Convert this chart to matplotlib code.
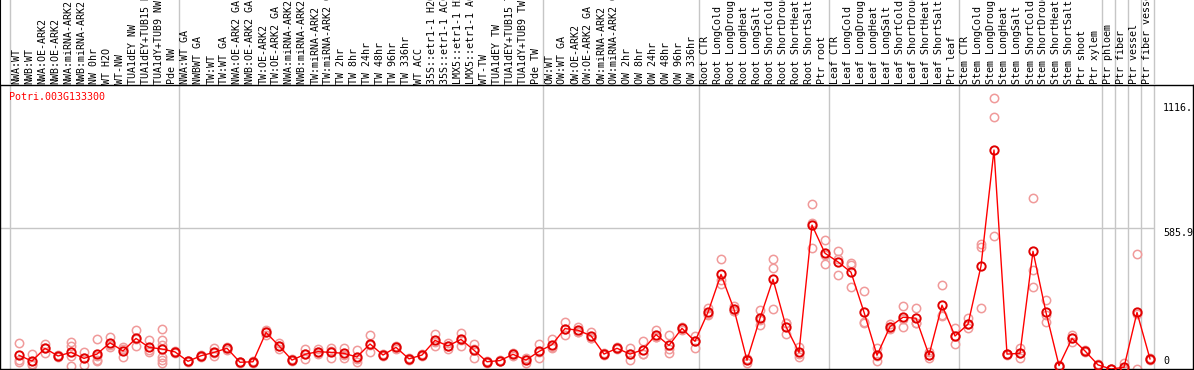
import matplotlib
matplotlib.use("Agg")
import matplotlib.pyplot as plt
from matplotlib.transforms import blended_transform_factory, offset_copy

# ---------------- data ----------------
gene = "Potri.003G133300"

group_sizes = [13, 28, 12, 10, 10, 11, 1, 1, 1, 1]

labels = [
    # group 1
    "NWA:WT", "NWB:WT", "NWA:OE-ARK2", "NWB:OE-ARK2", "NWA:miRNA-ARK2", "NWB:miRNA-ARK2",
    "NW 0hr", "WT H2O", "WT-NW", "TUA1dEY NW", "TUA1dEY+TUB15 NW", "TUA1dY+TUB9 NW", "Pde NW",
    # group 2
    "NWA:WT GA", "NWBWT GA", "TW:WT", "TW:WT GA", "NWA:OE-ARK2 GA", "NWB:OE-ARK2 GA",
    "TW:OE-ARK2", "TW:OE-ARK2 GA", "NWA:miRNA-ARK2 GA", "NWB:miRNA-ARK2 GA", "TW:miRNA-ARK2",
    "TW:miRNA-ARK2 GA", "TW 2hr", "TW 8hr", "TW 24hr", "TW 48hr", "TW 96hr", "TW 336hr",
    "WT ACC", "35S::etr1-1 H2O", "35S::etr1-1 ACC", "LMX5::etr1-1 H2O", "LMX5::etr1-1 ACC",
    "WT-TW", "TUA1dEY TW", "TUA1dEY+TUB15 TW", "TUA1dY+TUB9 TW", "Pde TW",
    # group 3
    "OW:WT", "OW:WT GA", "OW:OE-ARK2", "OW:OE-ARK2 GA", "OW:miRNA-ARK2", "OW:miRNA-ARK2 GA",
    "OW 2hr", "OW 8hr", "OW 24hr", "OW 48hr", "OW 96hr", "OW 336hr",
    # group 4
    "Root CTR", "Root LongCold", "Root LongDrought", "Root LongHeat", "Root LongSalt",
    "Root ShortCold", "Root ShortDrought", "Root ShortHeat", "Root ShortSalt", "Ptr root",
    # group 5
    "Leaf CTR", "Leaf LongCold", "Leaf LongDrought", "Leaf LongHeat", "Leaf LongSalt",
    "Leaf ShortCold", "Leaf ShortDrought", "Leaf ShortHeat", "Leaf ShortSalt", "Ptr leaf",
    # group 6
    "Stem CTR", "Stem LongCold", "Stem LongDrought", "Stem LongHeat", "Stem LongSalt",
    "Stem ShortCold", "Stem ShortDrought", "Stem ShortHeat", "Stem ShortSalt", "Ptr shoot",
    "Ptr xylem",
    # groups 7-10
    "Ptr phloem", "Ptr fiber", "Ptr vessel", "Ptr fiber vessel",
]

means = [
    57, 33, 86, 54, 69, 44, 62, 109, 75, 127, 90, 83, 71,
    32, 55, 69, 86, 28, 30, 152, 96, 37, 61, 72, 69, 65, 50, 104, 58, 90, 42, 58, 119,
    96, 123, 78, 30, 35, 61, 37, 73,
    101, 168, 161, 138, 62, 86, 62, 80, 143, 98, 169, 115,
    236, 393, 248, 36, 211, 373, 176, 69, 598, 481,
    445, 402, 236, 57, 176, 215, 211, 58, 265, 137,
    186, 428, 910, 62, 65, 489, 235, 14, 127, 75, 17,
    0, 7, 235, 42,
]

replicates = [
    [107, 36, 28], [61, 21, 17], [103, 87, 68], [60, 54, 48], [113, 96, 55, 12],
    [69, 45, 18], [125, 53, 37, 33], [134, 100, 93], [93, 83, 49], [162, 123, 96],
    [120, 81, 69], [165, 120, 101, 51, 37, 24], [75, 71, 67],
    [35, 32, 29], [60, 55, 50], [86, 66, 55], [92, 86, 80], [30, 28, 26], [33, 30, 27],
    [162, 152, 142], [109, 96, 83], [40, 37, 34], [82, 61, 40], [82, 72, 62], [89, 74, 44],
    [89, 60, 46], [79, 41, 30], [141, 99, 72], [63, 58, 53], [95, 90, 85], [46, 42, 38],
    [62, 58, 54], [147, 114, 96], [107, 96, 85], [151, 121, 97], [105, 85, 44],
    [34, 30, 26], [38, 35, 32], [68, 61, 54], [44, 41, 26], [103, 70, 46],
    [126, 90, 87], [195, 166, 143], [176, 155, 152], [155, 130, 129], [66, 62, 58],
    [90, 86, 82], [86, 63, 37], [115, 64, 61], [162, 134, 133], [141, 85, 68],
    [176, 169, 162], [138, 118, 89],
    [255, 229, 224], [456, 371, 352], [262, 241, 241], [41, 41, 26], [245, 205, 183],
    [456, 418, 248], [192, 191, 145], [93, 63, 51], [686, 607, 501], [535, 472, 436],
    [489, 457, 389], [442, 432, 339], [323, 194, 191], [86, 52, 33], [185, 176, 167],
    [262, 207, 176], [252, 190, 191], [72, 58, 44], [349, 224, 222], [169, 139, 103],
    [211, 186, 169], [519, 506, 252], [1125, 1046, 553], [62, 64, 60], [89, 65, 44],
    [709, 411, 339], [287, 224, 194], [14, 12, 16], [141, 127, 113], [80, 75, 70],
    [17, 15, 19],
    [0, 0, 0], [24, 0, 0], [478, 228, 0], [42, 45, 39],
]

grid_value = 585.9
ytick_values = [1116, 585.9, 0]
ytick_labels = ["1116.", "585.9", "0"]

# ---------------- layout ----------------
W, H = 1194, 370
fig = plt.figure(figsize=(W / 100, H / 100), dpi=100)
fig.patch.set_facecolor("white")


def fx(px):
    return px / W


def fy(py):
    return 1 - py / H


top_line, bottom_line, right_line = 85, 369, 1193
ax = fig.add_axes([0, fy(bottom_line), fx(right_line), (bottom_line - top_line) / H])
lab = fig.add_axes([0, fy(top_line), fx(right_line), top_line / H])

col_w = 13.0
x0 = 10.0
xlim = (-x0 / col_w, (right_line - x0) / col_w)
ymax = grid_value * (bottom_line - top_line) / (bottom_line - 228)
for a in (ax, lab):
    a.set_xlim(*xlim)
    a.set_xticks([])
    a.set_yticks([])
    a.patch.set_alpha(0)
ax.set_ylim(0, ymax)
lab.set_ylim(0, 1)

for s in ax.spines.values():
    s.set_color("black")
    s.set_linewidth(1)
for k in ("top", "right", "bottom"):
    lab.spines[k].set_visible(False)
lab.spines["left"].set_color("black")

mono = "DejaVu Sans Mono"
fs = 7.2

# group separators
bounds = [0]
for g in group_sizes:
    bounds.append(bounds[-1] + g)
for b in bounds:
    ax.axvline(b, color="#c6c6c6", lw=1, zorder=1)
    lab.axvline(b, color="#c6c6c6", lw=1, zorder=1)
ax.hlines(grid_value, xlim[0], bounds[-1], color="#c6c6c6", lw=1, zorder=1)

# data
n = len(means)
xs = [i + 9 / col_w for i in range(n)]
for i, r in enumerate(replicates):
    ax.plot([xs[i]] * len(r), r, "o", mfc="none", mec="#f09a9a", ms=6, mew=1.1, zorder=2)
ax.plot(xs, means, "-", color="red", lw=1, zorder=3)
ax.plot(xs, means, "o", mfc="none", mec="#e00000", ms=6, mew=1.4, zorder=4)

# column labels (long ones run off the top edge, as in the reference)
tr = blended_transform_factory(lab.transData, lab.transAxes)
for i, name in enumerate(labels):
    lab.text(i + 0.5, 1.5 / top_line, name, rotation=90, ha="center", va="bottom",
             fontsize=fs, family=mono, color="black", transform=tr)

# gene name
fig.text(fx(9), fy(97), gene, color="red", ha="left", va="center", fontsize=fs, family=mono)

# y labels
xlab = (1163 - x0) / col_w
for v, t in zip(ytick_values, ytick_labels):
    if v == 0:
        ax.text(xlab, v, t, ha="left", va="bottom", fontsize=fs, family=mono,
                transform=offset_copy(ax.transData, fig=fig, y=3, units="dots"))
    elif v == grid_value:
        ax.text(xlab, v, t, ha="left", va="top", fontsize=fs, family=mono)
    else:
        ax.text(xlab, v, t, ha="left", va="top", fontsize=fs, family=mono,
                transform=offset_copy(ax.transData, fig=fig, y=-3, units="dots"))

fig.savefig("out.png", dpi=100, facecolor="white")
